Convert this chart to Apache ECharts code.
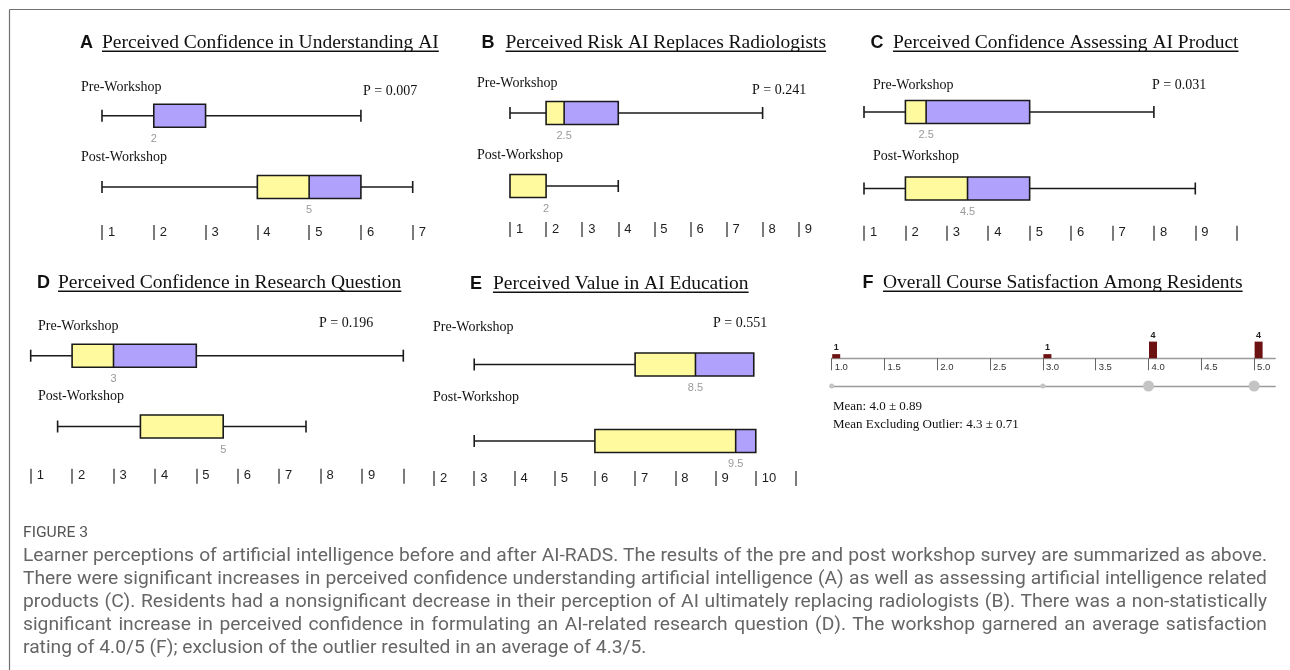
<!DOCTYPE html>
<html>
<head>
<meta charset="utf-8">
<script src="https://cdn.jsdelivr.net/npm/echarts@6/dist/echarts.min.js"></script>
<style>
html,body{margin:0;padding:0;background:#fff;}
#chart{position:absolute;left:0;top:0;width:1290px;height:670px;}
#caption{position:absolute;left:23px;top:523px;width:1244px;color:#666;font-family:Roboto,"Liberation Sans",sans-serif;}
#capHead{font-size:15px;line-height:18px;height:18px;color:#555;transform-origin:0 50%;white-space:nowrap;}
.cl{height:23px;line-height:23px;font-size:17.5px;white-space:nowrap;transform-origin:0 50%;}
.cl.j{text-align:justify;text-align-last:justify;white-space:normal;overflow:hidden;}
</style>
</head>
<body>
<div id="chart"></div>
<div id="caption"><div id="capHead"></div><div id="capBody" style="margin-top:2.5px"></div></div>
<script>
// ---------------- DATA ----------------
const panelLetters = ['A', 'B', 'C', 'D', 'E'];
const panelTitles = [
  'Perceived Confidence in Understanding AI',
  'Perceived Risk AI Replaces Radiologists',
  'Perceived Confidence Assessing AI Product',
  'Perceived Confidence in Research Question',
  'Perceived Value in AI Education'
];
const groupNames = ['Pre-Workshop', 'Post-Workshop'];
const pValueLabels = ['P = 0.007', 'P = 0.241', 'P = 0.031', 'P = 0.196', 'P = 0.551'];
// [min, Q1, median, Q3, max]
const preStats = [
  [1, 2, 2, 3, 6],
  [1, 2, 2.5, 4, 8],
  [1, 2, 2.5, 5, 8],
  [1, 2, 3, 5, 10],
  [3, 7, 8.5, 9.95, 9.95]
];
const postStats = [
  [1, 4, 5, 6, 7],
  [1, 1, 2, 2, 4],
  [1, 2, 3.5, 5, 9],
  [1.65, 3.65, 5.65, 5.65, 7.65],
  [3, 6, 9.5, 10, 10]
];
const preMedianLabels = ['2', '2.5', '2.5', '3', '8.5'];
const postMedianLabels = ['5', '2', '4.5', '5', '9.5'];
const tickValues = [
  [1, 2, 3, 4, 5, 6, 7],
  [1, 2, 3, 4, 5, 6, 7, 8, 9],
  [1, 2, 3, 4, 5, 6, 7, 8, 9, 10],
  [1, 2, 3, 4, 5, 6, 7, 8, 9, 10],
  [2, 3, 4, 5, 6, 7, 8, 9, 10, 11]
];
const tickLabels = [
  ['1', '2', '3', '4', '5', '6', '7'],
  ['1', '2', '3', '4', '5', '6', '7', '8', '9'],
  ['1', '2', '3', '4', '5', '6', '7', '8', '9', ''],
  ['1', '2', '3', '4', '5', '6', '7', '8', '9', ''],
  ['2', '3', '4', '5', '6', '7', '8', '9', '10', '']
];
const satLetter = 'F';
const satTitle = 'Overall Course Satisfaction Among Residents';
const satScores = [1, 3, 4, 5];
const satCounts = [1, 1, 4, 4];
const satTicks = [1, 1.5, 2, 2.5, 3, 3.5, 4, 4.5, 5];
const satTickLabels = ['1.0', '1.5', '2.0', '2.5', '3.0', '3.5', '4.0', '4.5', '5.0'];
const satStatLines = ['Mean: 4.0 \u00b1 0.89', 'Mean Excluding Outlier: 4.3 \u00b1 0.71'];
const captionHead = 'FIGURE 3';
const captionLines = [
  'Learner perceptions of artificial intelligence before and after AI-RADS. The results of the pre and post workshop survey are summarized as above.',
  'There were significant increases in perceived confidence understanding artificial intelligence (A) as well as assessing artificial intelligence related',
  'products (C). Residents had a nonsignificant decrease in their perception of AI ultimately replacing radiologists (B). There was a non-statistically',
  'significant increase in perceived confidence in formulating an AI-related research question (D). The workshop garnered an average satisfaction',
  'rating of 4.0/5 (F); exclusion of the outlier resulted in an average of 4.3/5.'
];

// ---------------- LAYOUT ----------------
const layouts = [
  {letterX: 80, titleX: 102, titleY: 43, x0: 102, x1: 412.7, rowPre: 115.7, rowPost: 187, tickLine: 240, preLbl: [81, 87], postLbl: [81, 157], pPos: [363, 91]},
  {letterX: 481.5, titleX: 505.5, titleY: 43, x0: 510, x1: 798.7, rowPre: 113, rowPost: 186, tickLine: 237, preLbl: [477, 83.5], postLbl: [477, 155], pPos: [752, 90.5]},
  {letterX: 870.5, titleX: 893, titleY: 43, x0: 864, x1: 1236.7, rowPre: 112, rowPost: 188.5, tickLine: 240.7, preLbl: [873, 85], postLbl: [873, 156], pPos: [1152, 85]},
  {letterX: 37, titleX: 58, titleY: 283, x0: 30.7, x1: 403.3, rowPre: 355.7, rowPost: 426.5, tickLine: 483.7, preLbl: [38, 326], postLbl: [38, 396], pPos: [319, 323]},
  {letterX: 470, titleX: 493, titleY: 284, x0: 434, x1: 796, rowPre: 364.5, rowPost: 441, tickLine: 486, preLbl: [433, 327.5], postLbl: [433, 397], pPos: [713, 323]}
];
const satLayout = {letterX: 862.5, titleX: 883, titleY: 283, x0: 831.7, unit: 105.6, axisY: 358.3, dotY: 386, statX: 833, statY: [407, 425]};

const YELLOW = '#fffa9e';
const PURPLE = '#b0a1fd';
const INK = '#1a1a1a';
const SERIF = '"Liberation Serif", "Times New Roman", serif';
const SANS = '"Liberation Sans", Arial, sans-serif';
const TITLE_FONT = '19.5px ' + SERIF;
const LETTER_FONT = 'bold 18px ' + SANS;
const LABEL_FONT = '14px ' + SERIF;

const mctx = document.createElement('canvas').getContext('2d');
function textW(t, font) { mctx.font = font; return mctx.measureText(t).width; }

const graphics = [];
// frame
graphics.push({type: 'line', silent: true, shape: {x1: 9.5, y1: 9.5, x2: 1290, y2: 9.5}, style: {stroke: '#707070', lineWidth: 1.2}});
graphics.push({type: 'line', silent: true, shape: {x1: 9.5, y1: 9.5, x2: 9.5, y2: 670}, style: {stroke: '#707070', lineWidth: 1.2}});

function addTitle(letter, title, lx, tx, ty) {
  graphics.push({type: 'text', silent: true, style: {text: letter, x: lx, y: ty, verticalAlign: 'middle', font: LETTER_FONT, fill: '#111'}});
  graphics.push({type: 'text', silent: true, style: {text: title, x: tx, y: ty, verticalAlign: 'middle', font: TITLE_FONT, fill: '#111'}});
  const w = textW(title, TITLE_FONT);
  graphics.push({type: 'line', silent: true, shape: {x1: tx, y1: ty + 8.3, x2: tx + w, y2: ty + 8.3}, style: {stroke: '#111', lineWidth: 1.5}});
}
function addLabel(text, x, y, font) {
  graphics.push({type: 'text', silent: true, style: {text: text, x: x, y: y, verticalAlign: 'middle', font: font || LABEL_FONT, fill: '#111'}});
}

const grids = [], xAxes = [], yAxes = [], series = [];

function boxRenderer(panel) {
  return function (params, api) {
    const cat = api.value(0);
    const mn = api.value(1), q1 = api.value(2), md = api.value(3), q3 = api.value(4), mx = api.value(5);
    const X = v => api.coord([v, cat])[0];
    const cy = api.coord([q1, cat])[1];
    const H = 23, C = 12;
    const ls = {stroke: INK, lineWidth: 1.6};
    const ch = [];
    if (mn < q1) {
      ch.push({type: 'line', shape: {x1: X(mn), y1: cy, x2: X(q1), y2: cy}, style: ls});
      ch.push({type: 'line', shape: {x1: X(mn), y1: cy - C / 2, x2: X(mn), y2: cy + C / 2}, style: ls});
    }
    if (mx > q3) {
      ch.push({type: 'line', shape: {x1: X(q3), y1: cy, x2: X(mx), y2: cy}, style: ls});
      ch.push({type: 'line', shape: {x1: X(mx), y1: cy - C / 2, x2: X(mx), y2: cy + C / 2}, style: ls});
    }
    const top = cy - H / 2;
    if (md > q1) ch.push({type: 'rect', shape: {x: X(q1), y: top, width: X(md) - X(q1), height: H}, style: {fill: YELLOW}});
    if (q3 > md) ch.push({type: 'rect', shape: {x: X(md), y: top, width: X(q3) - X(md), height: H}, style: {fill: PURPLE}});
    ch.push({type: 'rect', shape: {x: X(q1), y: top, width: X(q3) - X(q1), height: H}, style: {fill: 'none', stroke: INK, lineWidth: 1.6}});
    if (md > q1 && md < q3) ch.push({type: 'line', shape: {x1: X(md), y1: top, x2: X(md), y2: top + H}, style: ls});
    const lbl = (cat === 0 ? preMedianLabels : postMedianLabels)[panel];
    ch.push({type: 'text', style: {text: lbl, x: X(md), y: cy + 23, align: 'center', verticalAlign: 'middle', fill: '#9a9a9a', font: '11px ' + SANS}});
    return {type: 'group', children: ch};
  };
}

for (let i = 0; i < 5; i++) {
  const L = layouts[i];
  const s = L.rowPost - L.rowPre;
  const top = L.rowPre - s / 2;
  const height = 2 * s;
  const tv = tickValues[i];
  const minV = tv[0], maxV = tv[tv.length - 1];
  grids.push({left: L.x0, top: top, width: L.x1 - L.x0, height: height, containLabel: false, outerBoundsMode: 'none'});
  xAxes.push({
    gridIndex: i, type: 'value', min: minV, max: maxV, interval: 1,
    offset: L.tickLine - (top + height),
    axisLine: {show: false}, splitLine: {show: false},
    axisTick: {show: true, inside: true, length: 15, customValues: tv, lineStyle: {color: '#505050', width: 1.5}},
    axisLabel: {
      show: true, customValues: tv, inside: false, margin: -8,
      align: 'left', verticalAlign: 'middle', padding: [0, 0, 0, 6],
      fontSize: 13, fontFamily: SANS, color: '#1e1e1e',
      formatter: v => { const k = tv.indexOf(v); return k >= 0 ? tickLabels[i][k] : ''; }
    }
  });
  yAxes.push({gridIndex: i, type: 'category', data: groupNames, inverse: true, show: false});
  series.push({
    type: 'custom', xAxisIndex: i, yAxisIndex: i, clip: false, silent: true,
    encode: {x: [1, 2, 3, 4, 5], y: 0},
    data: [[0].concat(preStats[i]), [1].concat(postStats[i])],
    renderItem: boxRenderer(i)
  });
  addTitle(panelLetters[i], panelTitles[i], L.letterX, L.titleX, L.titleY);
  addLabel(groupNames[0], L.preLbl[0], L.preLbl[1]);
  addLabel(groupNames[1], L.postLbl[0], L.postLbl[1]);
  addLabel(pValueLabels[i], L.pPos[0], L.pPos[1]);
}

// ---- Panel F ----
const S = satLayout;
const satMin = satTicks[0];
const satAxisMax = satTicks[satTicks.length - 1] + 0.2;
const satWidth = (satAxisMax - satMin) * S.unit;
grids.push({left: S.x0, top: S.axisY - 41.75, width: satWidth, height: 41.75, containLabel: false, outerBoundsMode: 'none'});
grids.push({left: S.x0, top: S.dotY - 10, width: satWidth, height: 10, containLabel: false, outerBoundsMode: 'none'});
xAxes.push({
  gridIndex: 5, type: 'value', min: satMin, max: satAxisMax, interval: 0.5,
  axisLine: {show: true, lineStyle: {color: '#9a9a9a', width: 1.3}},
  splitLine: {show: false},
  axisTick: {show: true, inside: false, length: 12, customValues: satTicks, lineStyle: {color: '#666', width: 1}},
  axisLabel: {
    show: true, customValues: satTicks, margin: 9, align: 'left', verticalAlign: 'middle', padding: [0, 0, 0, 3],
    fontSize: 9.5, fontFamily: SANS, color: '#333',
    formatter: v => { const k = satTicks.indexOf(v); return k >= 0 ? satTickLabels[k] : ''; }
  }
});
xAxes.push({
  gridIndex: 6, type: 'value', min: satMin, max: satAxisMax,
  axisLine: {show: true, lineStyle: {color: '#9a9a9a', width: 1.4}},
  axisTick: {show: false}, axisLabel: {show: false}, splitLine: {show: false}
});
yAxes.push({gridIndex: 5, type: 'value', min: 0, max: 10, show: false});
yAxes.push({gridIndex: 6, type: 'value', min: 0, max: 1, show: false});
series.push({
  type: 'custom', xAxisIndex: 5, yAxisIndex: 5, clip: false, silent: true,
  encode: {x: 0, y: 1},
  data: satScores.map((v, k) => [v, satCounts[k]]),
  renderItem: function (params, api) {
    const x = api.value(0), n = api.value(1);
    const p0 = api.coord([x, 0]), p1 = api.coord([x, n]);
    return {type: 'group', children: [
      {type: 'rect', shape: {x: p0[0] + 0.5, y: p1[1], width: 8, height: p0[1] - p1[1]}, style: {fill: '#6c1212'}},
      {type: 'text', style: {text: String(n), x: p0[0] + 4.5, y: p1[1] - 6.5, align: 'center', verticalAlign: 'middle', font: 'bold 9px ' + SANS, fill: '#222'}}
    ]};
  }
});
series.push({
  type: 'scatter', xAxisIndex: 6, yAxisIndex: 6, silent: true,
  data: satScores.map(v => [v, 0]),
  symbolSize: (val, p) => 3 + 2 * satCounts[p.dataIndex],
  itemStyle: {color: '#c4c4c4', opacity: 1}
});
addTitle(satLetter, satTitle, S.letterX, S.titleX, S.titleY);
addLabel(satStatLines[0], S.statX, S.statY[0], '13px ' + SERIF);
addLabel(satStatLines[1], S.statX, S.statY[1], '13px ' + SERIF);

const chart = echarts.init(document.getElementById('chart'), null, {renderer: 'canvas', width: 1290, height: 670});
chart.setOption({
  backgroundColor: '#fff',
  animation: false,
  grid: grids, xAxis: xAxes, yAxis: yAxes, series: series,
  graphic: {elements: graphics}
});

// ---------------- CAPTION ----------------
const head = document.getElementById('capHead');
head.textContent = captionHead;
const headFont = '15px Roboto, "Liberation Sans", sans-serif';
head.style.transform = 'scaleX(' + (65 / textW(captionHead, headFont)) + ')';
const body = document.getElementById('capBody');
const capFont = '17.5px Roboto, "Liberation Sans", sans-serif';
const targetLast = 640, fullW = 1244;
let scale = targetLast / textW(captionLines[captionLines.length - 1], capFont);
let maxW = 0;
for (let k = 0; k < captionLines.length - 1; k++) maxW = Math.max(maxW, textW(captionLines[k], capFont));
if (maxW * scale > fullW - 6) scale = (fullW - 6) / maxW;
captionLines.forEach((t, k) => {
  const d = document.createElement('div');
  d.className = 'cl' + (k < captionLines.length - 1 ? ' j' : '');
  d.textContent = t;
  d.style.width = (fullW / scale) + 'px';
  d.style.transform = 'scaleX(' + scale + ')';
  body.appendChild(d);
});
</script>
</body>
</html>
